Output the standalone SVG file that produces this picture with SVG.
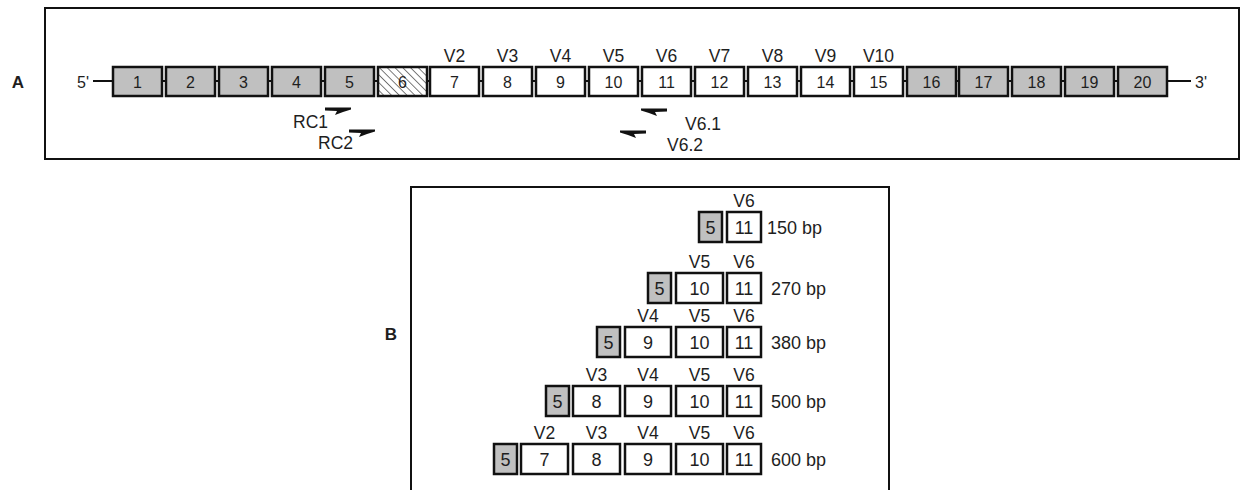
<svg xmlns="http://www.w3.org/2000/svg" width="1246" height="490" viewBox="0 0 1246 490">
<style>
text{font-family:"Liberation Sans",Arial,sans-serif;fill:#1e1e1e}
.num{font-size:16px;text-anchor:middle}
.v{font-size:17.5px;text-anchor:middle}
.lbl{font-size:17.5px}
.bn{font-size:18px;text-anchor:middle}
.bp{font-size:18px}
.panel{font-size:17px;font-weight:bold;text-anchor:middle}
.frame{fill:none;stroke:#111;stroke-width:2}
.g{fill:#c0c0c0;stroke:#111;stroke-width:2.5}
.w{fill:#fff;stroke:#111;stroke-width:2.5}
.h{fill:url(#hatch);stroke:#111;stroke-width:2.5}
.bb{stroke:#111;stroke-width:2;fill:none}
.pr{fill:#111}
</style>
<defs>
<pattern id="hatch" patternUnits="userSpaceOnUse" width="5.5" height="5.5" patternTransform="rotate(-45)">
<rect width="5.5" height="5.5" fill="#fff"/>
<line x1="0" y1="0" x2="0" y2="5.5" stroke="#111" stroke-width="1.1"/>
</pattern>
<path id="primerR" d="M0,-1.5 L26,-1.5 L26,0.5 L18,3 L10,6 L12,2 L0,1.5 Z"/>
</defs>

<g id="panelA">
<rect class="frame" x="45" y="8" width="1194" height="151"/>
<text class="panel" x="18" y="88">A</text>
<text class="lbl" x="89" y="88" text-anchor="end" style="font-size:16px">5'</text>
<text class="lbl" x="1195" y="88" style="font-size:16px">3'</text>
</g>

<g id="connectors">
<line class="bb" x1="93" y1="81" x2="1191" y2="81"/>
<use href="#primerR" class="pr" x="325" y="109"/>
<use href="#primerR" class="pr" x="349" y="131"/>
<use href="#primerR" class="pr" transform="translate(667,110) scale(-1,1)"/>
<use href="#primerR" class="pr" transform="translate(646,132) scale(-1,1)"/>
</g>

<g id="primer-labels">
<text class="lbl" x="293" y="128">RC1</text>
<text class="lbl" x="318" y="149">RC2</text>
<text class="lbl" x="685" y="130">V6.1</text>
<text class="lbl" x="667" y="151">V6.2</text>
</g>

<g id="exon1"><rect class="g" x="113" y="67" width="49" height="29"/><text class="num" x="137.5" y="88">1</text></g>
<g id="exon2"><rect class="g" x="166" y="67" width="49" height="29"/><text class="num" x="190.5" y="88">2</text></g>
<g id="exon3"><rect class="g" x="219" y="67" width="49" height="29"/><text class="num" x="243.5" y="88">3</text></g>
<g id="exon4"><rect class="g" x="272" y="67" width="49" height="29"/><text class="num" x="296.5" y="88">4</text></g>
<g id="exon5"><rect class="g" x="325" y="67" width="49" height="29"/><text class="num" x="349.5" y="88">5</text></g>
<g id="exon6"><rect class="h" x="378" y="67" width="49" height="29"/><text class="num" x="402.5" y="88">6</text></g>
<g id="exon7"><rect class="w" x="430" y="67" width="49" height="29"/><text class="num" x="454.5" y="88">7</text><text class="v" x="454.5" y="62">V2</text></g>
<g id="exon8"><rect class="w" x="483" y="67" width="49" height="29"/><text class="num" x="507.5" y="88">8</text><text class="v" x="507.5" y="62">V3</text></g>
<g id="exon9"><rect class="w" x="536" y="67" width="49" height="29"/><text class="num" x="560.5" y="88">9</text><text class="v" x="560.5" y="62">V4</text></g>
<g id="exon10"><rect class="w" x="589" y="67" width="49" height="29"/><text class="num" x="613.5" y="88">10</text><text class="v" x="613.5" y="62">V5</text></g>
<g id="exon11"><rect class="w" x="642" y="67" width="49" height="29"/><text class="num" x="666.5" y="88">11</text><text class="v" x="666.5" y="62">V6</text></g>
<g id="exon12"><rect class="w" x="695" y="67" width="49" height="29"/><text class="num" x="719.5" y="88">12</text><text class="v" x="719.5" y="62">V7</text></g>
<g id="exon13"><rect class="w" x="748" y="67" width="49" height="29"/><text class="num" x="772.5" y="88">13</text><text class="v" x="772.5" y="62">V8</text></g>
<g id="exon14"><rect class="w" x="801" y="67" width="49" height="29"/><text class="num" x="825.5" y="88">14</text><text class="v" x="825.5" y="62">V9</text></g>
<g id="exon15"><rect class="w" x="854" y="67" width="49" height="29"/><text class="num" x="878.5" y="88">15</text><text class="v" x="878.5" y="62">V10</text></g>
<g id="exon16"><rect class="g" x="907" y="67" width="49" height="29"/><text class="num" x="931.5" y="88">16</text></g>
<g id="exon17"><rect class="g" x="959" y="67" width="49" height="29"/><text class="num" x="983.5" y="88">17</text></g>
<g id="exon18"><rect class="g" x="1012" y="67" width="49" height="29"/><text class="num" x="1036.5" y="88">18</text></g>
<g id="exon19"><rect class="g" x="1065" y="67" width="49" height="29"/><text class="num" x="1089.5" y="88">19</text></g>
<g id="exon20"><rect class="g" x="1118" y="67" width="49" height="29"/><text class="num" x="1142.5" y="88">20</text></g>

<g id="panelB">
<rect class="frame" x="411" y="187" width="478" height="320"/>
<text class="panel" x="391" y="340">B</text>
</g>

<g id="row150">
<rect class="g" x="699" y="212" width="23" height="30"/><text class="bn" x="710.5" y="233.5">5</text>
<rect class="w" x="727" y="212" width="34" height="30"/><text class="bn" x="744" y="233.5">11</text>
<text class="v" x="744" y="207">V6</text>
<text class="bp" x="767" y="234">150 bp</text>
</g>

<g id="row270">
<rect class="g" x="648" y="273" width="23" height="30"/><text class="bn" x="659.5" y="294.5">5</text>
<rect class="w" x="676" y="273" width="47" height="30"/><text class="bn" x="699.5" y="294.5">10</text>
<rect class="w" x="727" y="273" width="34" height="30"/><text class="bn" x="744" y="294.5">11</text>
<text class="v" x="699.5" y="268">V5</text><text class="v" x="744" y="268">V6</text>
<text class="bp" x="771" y="295">270 bp</text>
</g>

<g id="row380">
<rect class="g" x="597" y="327" width="23" height="30"/><text class="bn" x="608.5" y="348.5">5</text>
<rect class="w" x="625" y="327" width="46" height="30"/><text class="bn" x="648" y="348.5">9</text>
<rect class="w" x="676" y="327" width="47" height="30"/><text class="bn" x="699.5" y="348.5">10</text>
<rect class="w" x="727" y="327" width="34" height="30"/><text class="bn" x="744" y="348.5">11</text>
<text class="v" x="648" y="322">V4</text><text class="v" x="699.5" y="322">V5</text><text class="v" x="744" y="322">V6</text>
<text class="bp" x="771" y="349">380 bp</text>
</g>

<g id="row500">
<rect class="g" x="546" y="386" width="23" height="30"/><text class="bn" x="557.5" y="407.5">5</text>
<rect class="w" x="573" y="386" width="47" height="30"/><text class="bn" x="596.5" y="407.5">8</text>
<rect class="w" x="625" y="386" width="46" height="30"/><text class="bn" x="648" y="407.5">9</text>
<rect class="w" x="676" y="386" width="47" height="30"/><text class="bn" x="699.5" y="407.5">10</text>
<rect class="w" x="727" y="386" width="34" height="30"/><text class="bn" x="744" y="407.5">11</text>
<text class="v" x="596.5" y="381">V3</text><text class="v" x="648" y="381">V4</text><text class="v" x="699.5" y="381">V5</text><text class="v" x="744" y="381">V6</text>
<text class="bp" x="771" y="408">500 bp</text>
</g>

<g id="row600">
<rect class="g" x="494" y="444" width="23" height="30"/><text class="bn" x="505.5" y="465.5">5</text>
<rect class="w" x="521" y="444" width="47" height="30"/><text class="bn" x="544.5" y="465.5">7</text>
<rect class="w" x="573" y="444" width="47" height="30"/><text class="bn" x="596.5" y="465.5">8</text>
<rect class="w" x="625" y="444" width="46" height="30"/><text class="bn" x="648" y="465.5">9</text>
<rect class="w" x="676" y="444" width="47" height="30"/><text class="bn" x="699.5" y="465.5">10</text>
<rect class="w" x="727" y="444" width="34" height="30"/><text class="bn" x="744" y="465.5">11</text>
<text class="v" x="544.5" y="439">V2</text><text class="v" x="596.5" y="439">V3</text><text class="v" x="648" y="439">V4</text><text class="v" x="699.5" y="439">V5</text><text class="v" x="744" y="439">V6</text>
<text class="bp" x="771" y="466">600 bp</text>
</g>
</svg>
